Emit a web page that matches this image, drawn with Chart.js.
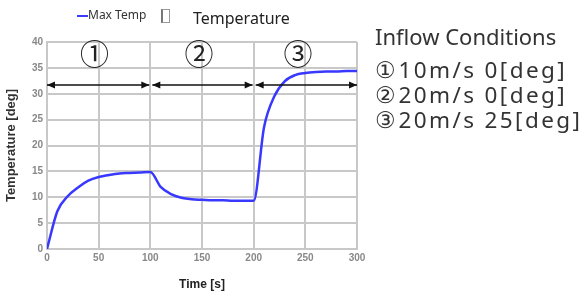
<!DOCTYPE html>
<html>
<head>
<meta charset="utf-8">
<script src="https://cdn.jsdelivr.net/npm/chart.js@4.4.0/dist/chart.umd.min.js"></script>
<style>
  body { margin:0; background:#fff; }
  #wrap { position:relative; width:588px; height:296px; overflow:hidden; font-family:'Noto Sans', sans-serif; }
  #chart { position:absolute; left:0; top:0; }
  .legend { position:absolute; left:77px; top:6px; font-size:12px; color:#333; }
  .legend .swatch { display:inline-block; width:11px; height:2px; background:#3c3cff; vertical-align:middle; margin-right:0; }
  .glyph { position:absolute; left:161px; top:9px; width:6px; height:12px; border:1px solid #999; border-left:2px solid #777; }
  .title { position:absolute; left:193px; top:7px; font-size:16px; color:#222; }
  .side { position:absolute; left:375px; top:24px; color:#333; font-size:22px; line-height:25px; }
  .side .head { margin-bottom:8px; }
  .side .cond { font-size:22.5px; letter-spacing:2.4px; }
</style>
</head>
<body>
<div id="wrap">
  <canvas id="chart" width="588" height="296"></canvas>
  <div class="legend"><span class="swatch"></span>Max Temp</div>
  <div class="glyph"></div>
  <div class="title">Temperature</div>
  <div class="side">
    <div class="head">Inflow Conditions</div>
    <div class="cond">①10m/s 0[deg]</div>
    <div class="cond">②20m/s 0[deg]</div>
    <div class="cond">③20m/s 25[deg]</div>
  </div>
</div>
<script>
// time [s] and max temperature [deg]
const times = [0, 10, 20, 30, 40, 50, 60, 70, 80, 90, 100,
  110, 120, 130, 140, 150, 160, 170, 180, 190, 200,
  210, 220, 230, 240, 250, 260, 270, 280, 290, 300];
const maxTemp = [0, 7.3, 10.2, 11.9, 13.2, 13.9, 14.3, 14.6, 14.7, 14.8, 14.9,
  12.0, 10.6, 9.9, 9.6, 9.5, 9.4, 9.4, 9.3, 9.3, 9.3,
  23.5, 29.5, 32.4, 33.6, 34.0, 34.2, 34.3, 34.3, 34.4, 34.4];

// inflow phases
const phaseStart = [0, 100, 200];
const phaseEnd = [100, 200, 300];
const phaseLabels = ['①', '②', '③'];
const phaseLabelAt = [46, 147, 243];
const arrowLevel = 31.7;
const labelLevel = 37.6;

const phasePlugin = {
  id: 'phases',
  afterDatasetsDraw(chart) {
    const ctx = chart.ctx;
    const x = chart.scales.x, y = chart.scales.y;
    const ay = y.getPixelForValue(arrowLevel);
    ctx.save();
    ctx.lineWidth = 1.5;
    phaseStart.forEach((s, i) => {
      const x0 = x.getPixelForValue(s) + (i > 0 ? 2 : 0);
      const x1 = x.getPixelForValue(phaseEnd[i]) - (i < 2 ? 1 : 0);
      ctx.strokeStyle = '#111';
      ctx.fillStyle = '#111';
      ctx.beginPath();
      ctx.moveTo(x0, ay);
      ctx.lineTo(x1, ay);
      ctx.stroke();
      // heads
      ctx.beginPath();
      ctx.moveTo(x0, ay);
      ctx.lineTo(x0 + 8, ay - 3.5);
      ctx.lineTo(x0 + 8, ay + 3.5);
      ctx.closePath();
      ctx.fill();
      ctx.beginPath();
      ctx.moveTo(x1, ay);
      ctx.lineTo(x1 - 8, ay - 3.5);
      ctx.lineTo(x1 - 8, ay + 3.5);
      ctx.closePath();
      ctx.fill();
      // circled number
      ctx.font = '29px "Noto Sans CJK JP"';
      ctx.fillStyle = '#222';
      ctx.textAlign = 'center';
      ctx.textBaseline = 'middle';
      ctx.fillText(phaseLabels[i], x.getPixelForValue(phaseLabelAt[i]), y.getPixelForValue(labelLevel));
    });
    ctx.restore();
  }
};

const gridColor = '#c8c8c8';
const tickFont = { family: 'Liberation Sans', size: 10, weight: 'bold' };

new Chart(document.getElementById('chart'), {
  type: 'line',
  data: {
    datasets: [{
      label: 'Max Temp',
      data: times.map((t, i) => ({ x: t, y: maxTemp[i] })),
      borderColor: '#3838ff',
      borderWidth: 2.5,
      pointRadius: 0,
      cubicInterpolationMode: 'monotone',
      fill: false
    }]
  },
  options: {
    responsive: false,
    animation: false,
    layout: { padding: { left: 0, top: 42, right: 231, bottom: 0 } },
    plugins: {
      legend: { display: false },
      title: { display: false },
      tooltip: { enabled: false }
    },
    scales: {
      x: {
        type: 'linear',
        min: 0, max: 300,
        ticks: { stepSize: 50, color: '#888', font: tickFont, padding: 3 },
        grid: { color: gridColor, lineWidth: 2, drawTicks: false },
        border: { color: gridColor, width: 2 },
        title: { display: true, text: 'Time [s]', color: '#222', font: { family: 'Liberation Sans', size: 12, weight: 'bold' }, padding: { top: 6 } },
        afterFit(scale) { scale.height = 47; }
      },
      y: {
        min: 0, max: 40,
        ticks: { stepSize: 5, color: '#888', font: tickFont, padding: 4 },
        grid: { color: gridColor, lineWidth: 2, drawTicks: false },
        border: { color: gridColor, width: 2 },
        title: { display: true, text: 'Temperature [deg]', color: '#333', font: { family: 'Liberation Sans', size: 13, weight: 'bold' }, padding: { bottom: 2 } },
        afterFit(scale) { scale.width = 47; }
      }
    }
  },
  plugins: [phasePlugin]
});
</script>
</body>
</html>
